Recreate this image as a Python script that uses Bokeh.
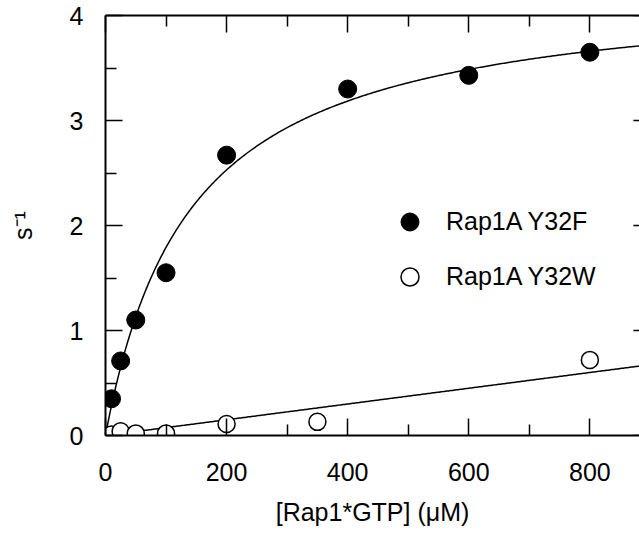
import numpy as np
from bokeh.plotting import figure
from bokeh.models import LinearAxis, Legend, LegendItem, FixedTicker, Range1d
from bokeh.embed import file_html
from bokeh.resources import INLINE

# Observed rates (s^-1) versus [Rap1*GTP] (uM)
conc_y32f = [10, 25, 50, 100, 200, 400, 600, 800]
rate_y32f = [0.35, 0.71, 1.10, 1.55, 2.67, 3.30, 3.43, 3.65]
conc_y32w = [10, 25, 50, 100, 200, 350, 800]
rate_y32w = [0.01, 0.04, 0.02, 0.02, 0.11, 0.13, 0.72]

# Fit parameters: hyperbolic for Y32F, linear for Y32W
kmax_y32f = 4.30
kd_y32f = 140.0
slope_y32w = 0.00075

# Axis ticks
x_major = [0, 200, 400, 600, 800]
x_minor = [100, 300, 500, 700, 900]
y_major = [0, 1, 2, 3, 4]
y_minor = [0.5, 1.5, 2.5, 3.5]

X_VISIBLE_END = 882
X_AXIS_END = 900

FONT = "Liberation Sans"
FS = "25px"

W, H = 639, 535
LEFT, TOP, BOTTOM = 105, 15, 100

p = figure(width=W, height=H, output_backend="svg", toolbar_location=None,
           x_range=Range1d(0, X_VISIBLE_END), y_range=Range1d(0, 4),
           min_border_left=LEFT, min_border_right=0, min_border_top=TOP,
           min_border_bottom=BOTTOM, outline_line_color=None,
           background_fill_color="white", border_fill_color="white")
p.xgrid.visible = False
p.ygrid.visible = False

px_per_unit = (W - LEFT) / X_VISIBLE_END
MAJOR_LEN, MINOR_LEN = 17, 11


def style_axis(ax, ticks, minor):
    ax.ticker = FixedTicker(ticks=ticks, minor_ticks=minor)
    ax.major_tick_in = MAJOR_LEN
    ax.major_tick_out = 0
    ax.minor_tick_in = MINOR_LEN
    ax.minor_tick_out = 0
    ax.major_tick_line_width = 1.5
    ax.minor_tick_line_width = 1.5
    ax.major_tick_line_color = "black"
    ax.minor_tick_line_color = "black"
    ax.axis_line_width = 2
    ax.axis_line_color = "black"
    ax.major_label_text_font = FONT
    ax.major_label_text_font_size = FS
    ax.major_label_text_color = "black"
    ax.axis_label_text_font = FONT
    ax.axis_label_text_font_size = FS
    ax.axis_label_text_font_style = "normal"
    ax.axis_label_text_color = "black"


xa = p.xaxis[0]
style_axis(xa, x_major, x_minor)
xa.major_label_standoff = 27
xa.axis_label = "[Rap1*GTP] (μM)"
xa.axis_label_standoff = 14

ya = p.yaxis[0]
style_axis(ya, y_major, y_minor)
ya.major_label_standoff = 22
ya.axis_label = "s⁻¹"
ya.axis_label_standoff = 30

top = LinearAxis()
style_axis(top, x_major, x_minor)
top.major_label_text_color = None
top.major_label_text_font_size = "0px"
top.major_label_standoff = 0
p.add_layout(top, "above")

# Right-hand frame ticks (the axis itself lies just past the visible range)
major_units = MAJOR_LEN / px_per_unit
minor_units = MINOR_LEN / px_per_unit
p.segment(x0=[X_AXIS_END - major_units] * len(y_major), x1=[X_AXIS_END] * len(y_major),
          y0=y_major, y1=y_major, line_color="black", line_width=1.5)
p.segment(x0=[X_AXIS_END - minor_units] * len(y_minor), x1=[X_AXIS_END] * len(y_minor),
          y0=y_minor, y1=y_minor, line_color="black", line_width=1.5)

# Fitted curves
xf = np.linspace(0, X_AXIS_END, 400)
p.line(xf, kmax_y32f * xf / (kd_y32f + xf), line_color="black", line_width=1.5)
p.line(xf, slope_y32w * xf, line_color="black", line_width=1.5)

# Data points
r_f = p.scatter(conc_y32f, rate_y32f, marker="circle", size=18,
                fill_color="black", line_color="black", line_width=1)
r_w = p.scatter(conc_y32w, rate_y32w, marker="circle", size=17,
                fill_color="white", line_color="black", line_width=1.5)

legend = Legend(items=[LegendItem(label="Rap1A Y32F", renderers=[r_f]),
                       LegendItem(label="Rap1A Y32W", renderers=[r_w])],
                location=(282, 136), glyph_width=45, glyph_height=45,
                spacing=10, padding=0, margin=0, label_standoff=14,
                border_line_color=None, background_fill_alpha=0,
                label_text_font=FONT, label_text_font_size=FS,
                label_text_color="black")
p.add_layout(legend)

open("out.html", "w").write(file_html(p, INLINE))
